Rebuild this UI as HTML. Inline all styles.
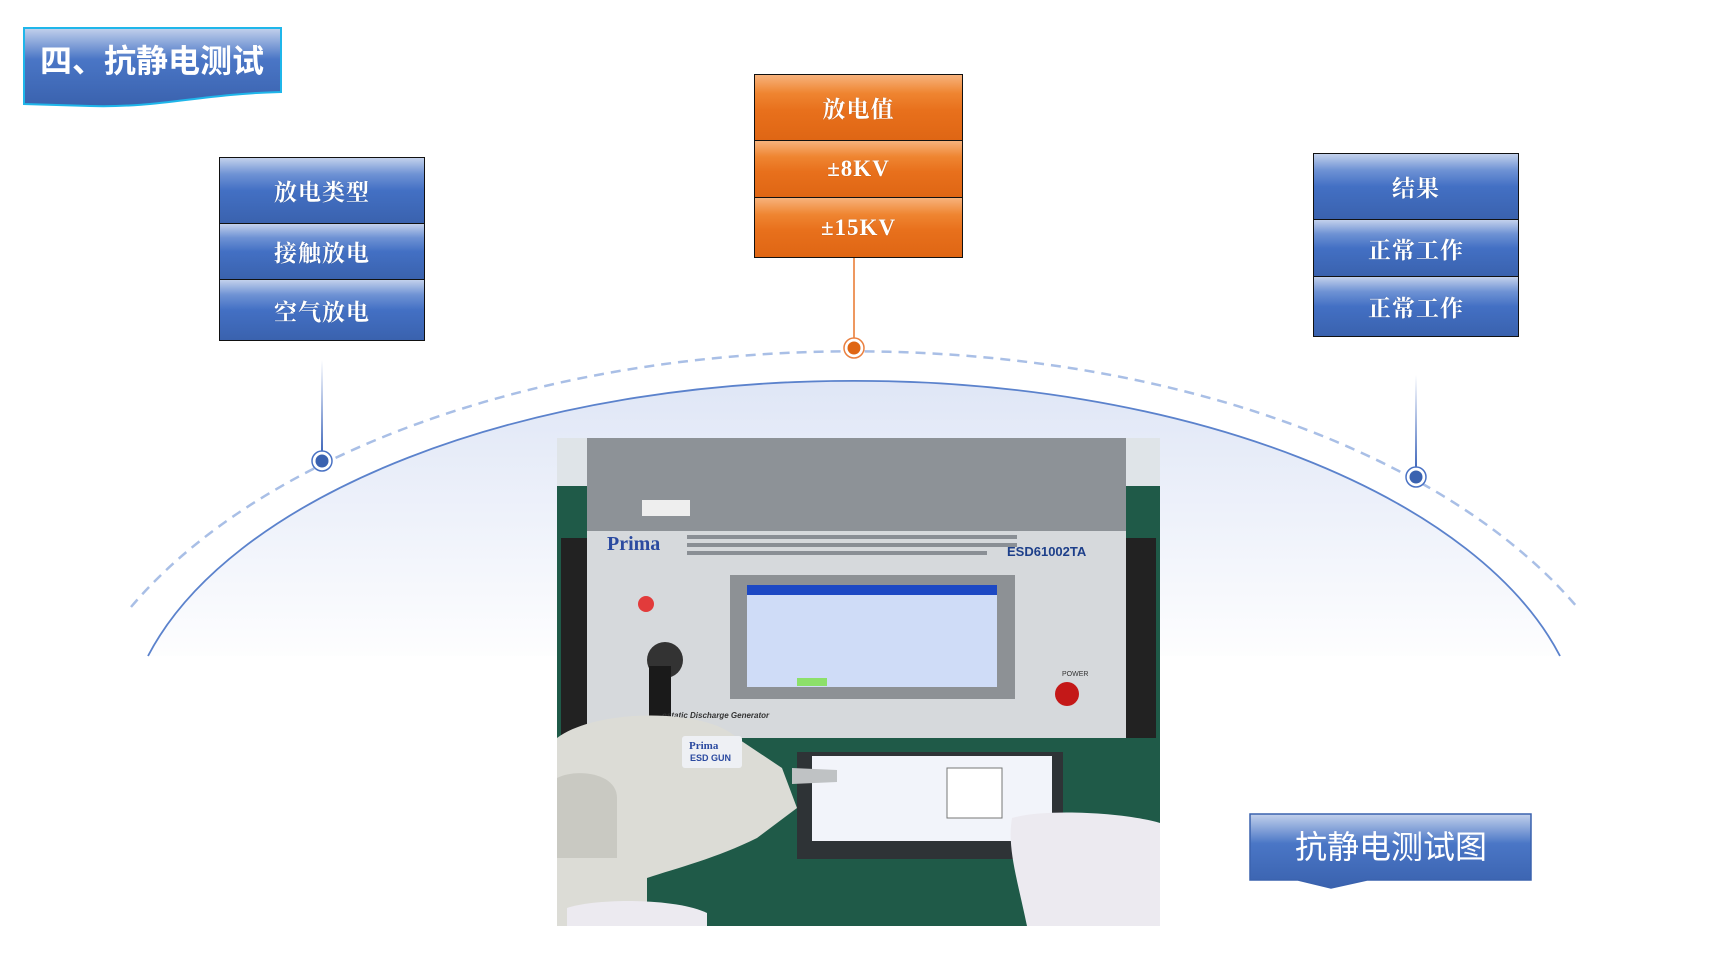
<!DOCTYPE html>
<html><head><meta charset="utf-8"><style>
body{margin:0;width:1712px;height:959px;background:#fff;position:relative;overflow:hidden;font-family:"Liberation Serif","Noto Serif CJK SC",serif}
.b{position:absolute;box-sizing:border-box;border:1.5px solid #111;color:#fff;font-weight:bold;font-size:23px;display:flex;align-items:center;justify-content:center;letter-spacing:1px;text-shadow:0 0 1px rgba(0,0,0,.3)}
.bl{background:linear-gradient(#c3d1ec 0%,#6e92d4 25%,#4370c4 50%,#3a62ae 100%)}
.or{background:linear-gradient(#f7b27c 0%,#ef8531 28%,#e8701c 55%,#df6614 100%)}
</style></head><body>
<svg width="1712" height="959" style="position:absolute;left:0;top:0">
<defs>
<linearGradient id="fill" gradientUnits="userSpaceOnUse" x1="0" y1="381" x2="0" y2="670"><stop offset="0" stop-color="#dfe6f6"/><stop offset="1" stop-color="#ffffff"/></linearGradient>
<linearGradient id="ttl" x1="0" y1="0" x2="0" y2="1"><stop offset="0" stop-color="#c3d1ec"/><stop offset="0.4" stop-color="#4a76c6"/><stop offset="1" stop-color="#3a62ae"/></linearGradient>
<linearGradient id="vl1" gradientUnits="userSpaceOnUse" x1="0" y1="360" x2="0" y2="455"><stop offset="0" stop-color="#4a72c4" stop-opacity="0"/><stop offset="1" stop-color="#3a62b8"/></linearGradient>
<linearGradient id="vl2" gradientUnits="userSpaceOnUse" x1="0" y1="375" x2="0" y2="471"><stop offset="0" stop-color="#4a72c4" stop-opacity="0"/><stop offset="1" stop-color="#3a62b8"/></linearGradient>
</defs>
<path d="M148,656 A730 369 0 0 1 1560,656 Z" fill="url(#fill)"/>
<path d="M148,656 A730 369 0 0 1 1560,656" fill="none" stroke="#5b82cc" stroke-width="1.8"/>
<path d="M131,607 A800 447 0 0 1 1577,607" fill="none" stroke="#a9bfe6" stroke-width="2.5" stroke-dasharray="10 7"/>
<line x1="322" y1="360" x2="322" y2="455" stroke="url(#vl1)" stroke-width="2"/>
<line x1="1416" y1="375" x2="1416" y2="471" stroke="url(#vl2)" stroke-width="2"/>
<line x1="854" y1="258" x2="854" y2="342" stroke="#e9762a" stroke-width="1.5"/>
<circle cx="322" cy="461" r="10" fill="#fff" stroke="#4a72c4" stroke-width="1.5"/><circle cx="322" cy="461" r="6.5" fill="#3a62b0"/>
<circle cx="1416" cy="477" r="10" fill="#fff" stroke="#4a72c4" stroke-width="1.5"/><circle cx="1416" cy="477" r="6.5" fill="#3a62b0"/>
<circle cx="854" cy="348" r="10" fill="#fff" stroke="#ea8040" stroke-width="1.5"/><circle cx="854" cy="348" r="6.5" fill="#df6614"/>
<path d="M24,28 L281,28 L281,92 C200,94 160,108 90,106 L24,104 Z" fill="url(#ttl)" stroke="#1fb6ea" stroke-width="2"/>
<text x="152" y="72" text-anchor="middle" font-family="Liberation Sans,Noto Sans CJK SC,sans-serif" font-weight="bold" font-size="32" fill="#fff">四、抗静电测试</text>
<path d="M1250,814 L1531,814 L1531,880 L1367,880 L1331,888 L1298,880 L1250,880 Z" fill="url(#ttl)" stroke="#3a62ae" stroke-width="1.5"/>
<text x="1391" y="858" text-anchor="middle" font-family="Liberation Sans,Noto Sans CJK SC,sans-serif" font-size="32" fill="#fff">抗静电测试图</text>
<g transform="translate(557,438)">
<rect width="603" height="488" fill="#1f5a48"/>
<rect width="603" height="48" fill="#dfe4e8"/>
<path d="M30,0 L569,0 L569,93 L30,93 Z" fill="#8d9297"/>
<path d="M30,93 L569,93 L569,300 L30,300 Z" fill="#d6d9dc"/>
<rect x="4" y="100" width="26" height="200" fill="#222"/><rect x="569" y="100" width="30" height="200" fill="#222"/>
<rect x="85" y="62" width="48" height="16" fill="#eee"/>
<text x="50" y="112" font-family="Liberation Serif,serif" font-weight="bold" font-size="20" fill="#2b4aa0">Prima</text>
<rect x="130" y="97" width="330" height="4" fill="#8a8f95"/><rect x="130" y="105" width="330" height="4" fill="#8a8f95"/><rect x="130" y="113" width="300" height="4" fill="#8a8f95"/>
<text x="450" y="118" font-family="Liberation Sans,sans-serif" font-weight="bold" font-size="13" fill="#1d3f8a">ESD61002TA</text>
<rect x="173" y="137" width="285" height="124" fill="#8d9195"/>
<rect x="190" y="147" width="250" height="102" fill="#cfdcf7"/>
<rect x="190" y="147" width="250" height="10" fill="#1c48c4"/>
<rect x="240" y="240" width="30" height="8" fill="#8ce06a"/>
<circle cx="89" cy="166" r="8" fill="#e23b3b"/>
<circle cx="108" cy="222" r="18" fill="#333"/><rect x="92" y="228" width="22" height="60" fill="#1a1a1a"/>
<circle cx="510" cy="256" r="12" fill="#c41818"/>
<text x="505" y="238" font-family="Liberation Sans,sans-serif" font-size="7" fill="#333">POWER</text>
<text x="105" y="280" font-family="Liberation Sans,sans-serif" font-weight="bold" font-style="italic" font-size="8" fill="#333">ostatic Discharge Generator</text>
<rect x="240" y="314" width="266" height="107" fill="#2e3336"/>
<rect x="255" y="318" width="240" height="85" fill="#f2f4fa"/>
<rect x="390" y="330" width="55" height="50" fill="#fff" stroke="#777"/>
<path d="M0,300 C40,270 150,270 180,300 L225,330 L240,370 L200,400 C160,420 120,430 90,440 L90,488 L0,488 Z" fill="#dcdcd6"/>
<path d="M0,340 C20,330 60,335 60,360 L60,420 L0,420 Z" fill="#c9c9c2"/>
<rect x="125" y="298" width="60" height="32" rx="3" fill="#eef0f4"/>
<text x="132" y="311" font-family="Liberation Serif,serif" font-weight="bold" font-size="11" fill="#2b4aa0">Prima</text>
<text x="133" y="323" font-family="Liberation Sans,sans-serif" font-weight="bold" font-size="9" fill="#2b4aa0">ESD GUN</text>
<path d="M235,330 L280,332 L280,344 L235,346 Z" fill="#bfc2c4"/>
<path d="M455,380 C490,370 570,375 603,385 L603,488 L470,488 C460,440 450,410 455,380 Z" fill="#eceaf0"/>
<path d="M10,470 C40,460 120,460 150,475 L150,488 L10,488 Z" fill="#eceaf0"/>
</g>
</svg>
<div class="b or" style="left:754px;top:74px;width:209px;height:67px">放电值</div>
<div class="b or" style="left:754px;top:140px;width:209px;height:58px">±8KV</div>
<div class="b or" style="left:754px;top:197px;width:209px;height:61px">±15KV</div>
<div class="b bl" style="left:219px;top:157px;width:206px;height:67px">放电类型</div>
<div class="b bl" style="left:219px;top:223px;width:206px;height:57px">接触放电</div>
<div class="b bl" style="left:219px;top:279px;width:206px;height:62px">空气放电</div>
<div class="b bl" style="left:1313px;top:153px;width:206px;height:67px">结果</div>
<div class="b bl" style="left:1313px;top:219px;width:206px;height:58px">正常工作</div>
<div class="b bl" style="left:1313px;top:276px;width:206px;height:61px">正常工作</div>
</body></html>
